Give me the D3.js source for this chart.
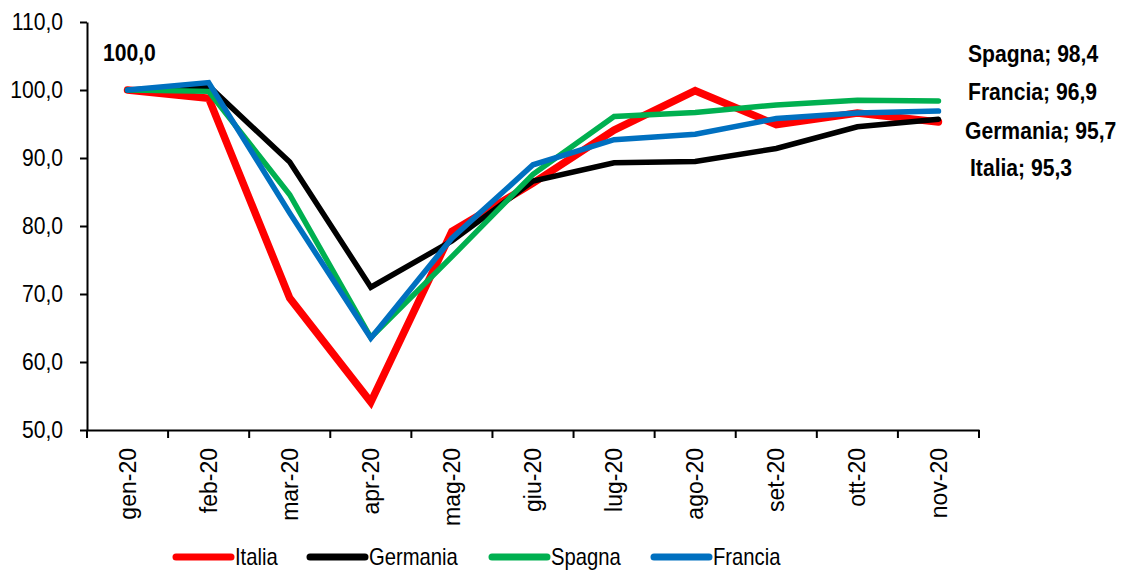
<!DOCTYPE html>
<html>
<head>
<meta charset="utf-8">
<script src="https://cdn.jsdelivr.net/npm/d3@7"></script>
<style>
  body { margin: 0; background: #fff; }
  text { font-family: "Liberation Sans", Arial, sans-serif; }
</style>
</head>
<body>
<div id="chart"></div>
<script>
// data
var months = ["gen-20", "feb-20", "mar-20", "apr-20", "mag-20", "giu-20", "lug-20", "ago-20", "set-20", "ott-20", "nov-20"];
var italia   = [100.0, 98.8, 69.4, 54.1, 79.2, 86.3, 94.1, 99.9, 94.9, 96.6, 95.3];
var germania = [100.0, 100.6, 89.4, 71.0, 77.8, 86.6, 89.3, 89.5, 91.4, 94.6, 95.7];
var spagna   = [100.0, 99.8, 84.6, 63.6, 75.5, 87.6, 96.1, 96.7, 97.8, 98.5, 98.4];
var francia  = [100.0, 101.1, 81.9, 63.5, 78.2, 89.0, 92.7, 93.5, 95.8, 96.6, 96.9];
var yTicks = [50, 60, 70, 80, 90, 100, 110];

var series = [
  {name: "Italia",   values: italia,   color: "#ff0000", width: 7.5},
  {name: "Germania", values: germania, color: "#000000", width: 5.5},
  {name: "Spagna",   values: spagna,   color: "#00b050", width: 5.5},
  {name: "Francia",  values: francia,  color: "#0070c0", width: 5.5}
];

var W = 1126, H = 571;
var sx = 0.88; // the original text is a bit condensed
var fmt = function(v) { return d3.format(".1f")(v).replace(".", ","); };

var svg = d3.select("#chart")
  .append("svg")
    .attr("width", W)
    .attr("height", H);

var x = d3.scaleBand()
  .domain(months)
  .range([87, 979])
  .padding(0);

var y = d3.scaleLinear()
  .domain([50, 110])
  .range([430, 22]);

// Y axis
var yAxis = svg.append("g")
  .attr("transform", "translate(87,0)")
  .call(d3.axisLeft(y).tickValues(yTicks).tickFormat(fmt).tickSize(7).tickSizeOuter(0));
yAxis.select(".domain").attr("stroke-width", 2);
yAxis.selectAll(".tick line").attr("stroke-width", 2);
yAxis.selectAll("text")
  .style("font-size", "24px")
  .attr("fill", "#000")
  .attr("x", -24 / sx)
  .attr("transform", "scale(" + sx + ",1)");

// X axis
var xAxis = svg.append("g")
  .attr("transform", "translate(0,430)")
  .call(d3.axisBottom(x).tickSize(0).tickSizeOuter(0).tickPadding(0));
xAxis.select(".domain").attr("stroke-width", 2);
xAxis.selectAll("text")
  .style("font-size", "23px")
  .attr("fill", "#000")
  .attr("text-anchor", "end")
  .attr("dy", "0.35em")
  .attr("y", 0)
  .attr("transform", "translate(0,18) rotate(-90)");

// band boundary ticks
var bounds = months.map(function(m) { return x(m); }).concat([x.range()[1]]);
svg.append("g")
  .selectAll("line")
  .data(bounds)
  .enter()
  .append("line")
    .attr("x1", function(d) { return d; })
    .attr("x2", function(d) { return d; })
    .attr("y1", 430)
    .attr("y2", 438)
    .attr("stroke", "#000")
    .attr("stroke-width", 2);

// lines
var line = d3.line()
  .x(function(d, i) { return x(months[i]) + x.bandwidth() / 2; })
  .y(function(d) { return y(d); });

svg.append("g")
  .selectAll("path")
  .data(series)
  .enter()
  .append("path")
    .attr("d", function(d) { return line(d.values); })
    .attr("fill", "none")
    .attr("stroke", function(d) { return d.color; })
    .attr("stroke-width", function(d) { return d.width; })
    .attr("stroke-linejoin", "miter")
    .attr("stroke-linecap", "round");

// start label
svg.append("text")
  .attr("transform", "translate(103,61) scale(" + sx + ",1)")
  .text(fmt(italia[0]))
  .style("font-size", "24px")
  .style("font-weight", "bold");

// end labels
var endLabels = [
  {s: series[2], x: 968, y: 62},
  {s: series[3], x: 968, y: 100},
  {s: series[1], x: 965, y: 139},
  {s: series[0], x: 970, y: 176}
];
svg.append("g")
  .selectAll("text")
  .data(endLabels)
  .enter()
  .append("text")
    .attr("transform", function(d) { return "translate(" + d.x + "," + d.y + ") scale(" + sx + ",1)"; })
    .text(function(d) { return d.s.name + "; " + fmt(d.s.values[d.s.values.length - 1]); })
    .style("font-size", "24px")
    .style("font-weight", "bold");

// legend
var legX = [176, 310, 492, 654];
var leg = svg.append("g")
  .selectAll("g")
  .data(series)
  .enter()
  .append("g")
    .attr("transform", function(d, i) { return "translate(" + legX[i] + ",557)"; });
leg.append("line")
  .attr("x1", 0).attr("x2", 55)
  .attr("stroke", function(d) { return d.color; })
  .attr("stroke-width", 7)
  .attr("stroke-linecap", "round");
leg.append("text")
  .attr("transform", "translate(59,0) scale(" + sx + ",1)")
  .attr("dy", "0.35em")
  .text(function(d) { return d.name; })
  .style("font-size", "23px");
</script>
</body>
</html>
